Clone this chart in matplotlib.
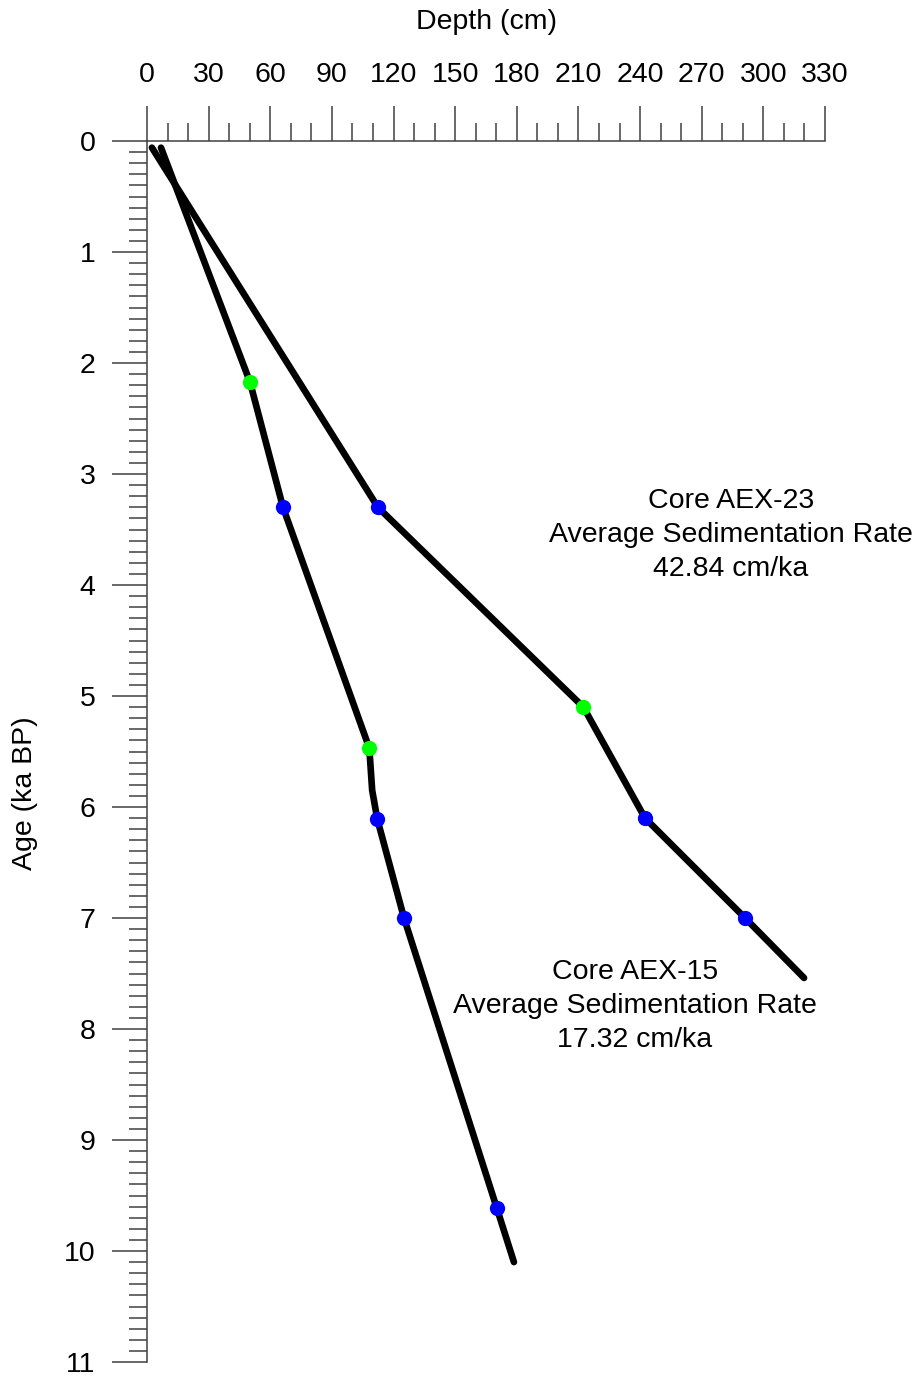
import numpy as np
import matplotlib
matplotlib.use("Agg")
import matplotlib.pyplot as plt
from matplotlib.ticker import MultipleLocator

plt.rcParams['font.family'] = ['Liberation Sans', 'DejaVu Sans']

# Core AEX-15 age-depth model (line) and dated levels
depth_15 = [6.8, 50.1, 66.2, 108.2, 109.6, 112.1, 125.1, 170.2, 178.6]
age_15 = [0.06, 2.17, 3.30, 5.47, 5.85, 6.11, 7.00, 9.61, 10.10]
green_depth_15 = [50.1, 108.2]
green_age_15 = [2.17, 5.47]
blue_depth_15 = [66.2, 112.1, 125.1, 170.2]
blue_age_15 = [3.30, 6.11, 7.00, 9.61]

# Core AEX-23
depth_23 = [2.4, 112.4, 212.4, 242.4, 291.1, 319.8]
age_23 = [0.06, 3.30, 5.10, 6.10, 7.00, 7.54]
green_depth_23 = [212.4]
green_age_23 = [5.10]
blue_depth_23 = [112.4, 242.4, 291.1]
blue_age_23 = [3.30, 6.10, 7.00]

label_23 = "Core AEX-23\nAverage Sedimentation Rate\n42.84 cm/ka"
label_15 = "Core AEX-15\nAverage Sedimentation Rate\n17.32 cm/ka"

fs = 20.5

fig = plt.figure(figsize=(9.2, 13.76), dpi=100)
ax = fig.add_axes([147/920, 1 - 1362/1376, 678/920, 1221/1376])

line_kw = dict(color='black', lw=4.8, solid_capstyle='round', solid_joinstyle='round', zorder=2)
ax.plot(depth_15, age_15, **line_kw)
ax.plot(depth_23, age_23, **line_kw)

mk = dict(ls='none', marker='o', ms=11, mew=0, zorder=3)
ax.plot(green_depth_15, green_age_15, color='#00ff00', **mk)
ax.plot(green_depth_23, green_age_23, color='#00ff00', **mk)
ax.plot(blue_depth_15, blue_age_15, color='#0000ff', **mk)
ax.plot(blue_depth_23, blue_age_23, color='#0000ff', **mk)

ax.text(284.3, 3.55, label_23, ha='center', va='center', multialignment='center',
        fontsize=fs, linespacing=1.4)
ax.text(237.5, 7.79, label_15, ha='center', va='center', multialignment='center',
        fontsize=fs, linespacing=1.4)

ax.set_xlim(0, 330)
ax.set_ylim(11, 0)
ax.xaxis.set_ticks_position('top')
ax.xaxis.set_label_position('top')
ax.xaxis.set_major_locator(MultipleLocator(30))
ax.xaxis.set_minor_locator(MultipleLocator(10))
ax.yaxis.set_major_locator(MultipleLocator(1))
ax.yaxis.set_minor_locator(MultipleLocator(0.1))

for s in ['right', 'bottom']:
    ax.spines[s].set_visible(False)
for s in ['left', 'top']:
    ax.spines[s].set_color('#404040')
    ax.spines[s].set_linewidth(1.1)

ax.tick_params(which='major', length=25, width=1.1, color='#404040', labelsize=fs)
ax.tick_params(which='minor', length=13, width=1.1, color='#404040')
ax.tick_params(axis='x', which='major', pad=13)
ax.tick_params(axis='y', which='major', pad=12)

fig.text(486.5/920, 1 - 22/1376, "Depth (cm)", ha='center', va='center', fontsize=fs)
fig.text(25/920, 1 - 793/1376, "Age (ka BP)", ha='center', va='center', fontsize=fs, rotation=90)

fig.savefig("out.png", dpi=100)
